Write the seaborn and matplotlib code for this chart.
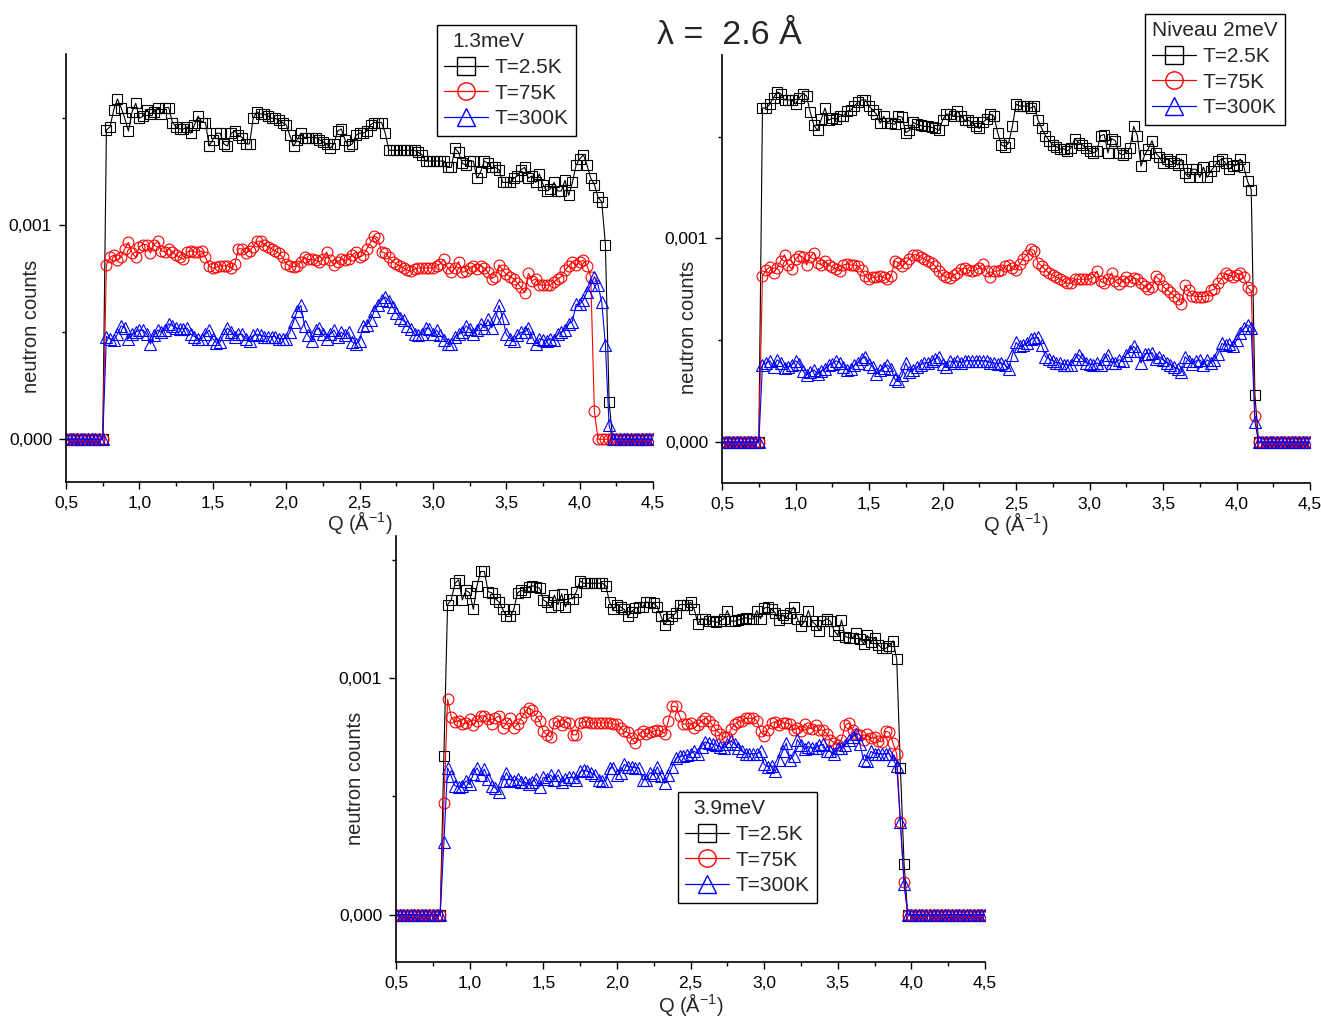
import numpy as np
import matplotlib
matplotlib.use('Agg')
import matplotlib.pyplot as plt
from matplotlib.lines import Line2D
from matplotlib.ticker import MultipleLocator, FuncFormatter
import seaborn as sns

# Q grid of the measurement (A^-1), step 0.025 from 0.5 to 4.5
q_grid = np.round(np.arange(0.5, 4.5001, 0.025), 3)
step = 0.025

# neutron counts in units of 1e-3, for the non-zero part of each curve
# panel 1 : 1.3 meV, non-zero from Q = 0.775
p1_start = 0.775
p1_black = [1.445, 1.46, 1.54, 1.59, 1.55, 1.50, 1.44, 1.53, 1.57, 1.50,
            1.51, 1.54, 1.52, 1.53, 1.55, 1.52, 1.55, 1.55, 1.48, 1.46,
            1.45, 1.45, 1.46, 1.43, 1.47, 1.51, 1.48, 1.48, 1.37, 1.40,
            1.43, 1.43, 1.38, 1.37, 1.43, 1.44, 1.42, 1.41, 1.38, 1.38,
            1.50, 1.53, 1.52, 1.52, 1.51, 1.50, 1.50, 1.49, 1.48, 1.47,
            1.42, 1.37, 1.40, 1.43, 1.41, 1.41, 1.41, 1.41, 1.40, 1.39,
            1.38, 1.36, 1.38, 1.44, 1.45, 1.40, 1.37, 1.38, 1.42, 1.43,
            1.43, 1.44, 1.47, 1.48, 1.48, 1.48, 1.43, 1.35, 1.35, 1.35,
            1.35, 1.35, 1.35, 1.35, 1.35, 1.34, 1.33, 1.30, 1.30, 1.30,
            1.30, 1.30, 1.30, 1.27, 1.27, 1.36, 1.34, 1.29, 1.28, 1.30,
            1.30, 1.22, 1.25, 1.30, 1.29, 1.27, 1.27, 1.26, 1.20, 1.20,
            1.20, 1.22, 1.23, 1.26, 1.27, 1.22, 1.23, 1.20, 1.24, 1.19,
            1.16, 1.17, 1.20, 1.16, 1.16, 1.21, 1.14, 1.20, 1.28, 1.31,
            1.33, 1.28, 1.22, 1.19, 1.13, 1.11, 0.91, 0.175]
p1_red = [0.816, 0.85, 0.86, 0.836, 0.85, 0.89, 0.92, 0.87, 0.85, 0.90,
          0.91, 0.91, 0.87, 0.91, 0.925, 0.88, 0.875, 0.89, 0.875, 0.86,
          0.85, 0.84, 0.875, 0.88, 0.875, 0.875, 0.88, 0.85, 0.81, 0.80,
          0.805, 0.81, 0.81, 0.81, 0.80, 0.82, 0.89, 0.89, 0.87, 0.88,
          0.90, 0.925, 0.925, 0.91, 0.90, 0.89, 0.88, 0.87, 0.85, 0.82,
          0.81, 0.805, 0.81, 0.83, 0.85, 0.84, 0.84, 0.836, 0.83, 0.84,
          0.875, 0.836, 0.815, 0.83, 0.84, 0.836, 0.84, 0.86, 0.875, 0.85,
          0.86, 0.89, 0.92, 0.95, 0.94, 0.875, 0.87, 0.85, 0.83, 0.82,
          0.81, 0.80, 0.79, 0.785, 0.795, 0.80, 0.80, 0.80, 0.80, 0.80,
          0.81, 0.82, 0.84, 0.80, 0.78, 0.80, 0.83, 0.78, 0.785, 0.80,
          0.81, 0.795, 0.81, 0.80, 0.78, 0.75, 0.76, 0.815, 0.79, 0.77,
          0.76, 0.75, 0.73, 0.71, 0.685, 0.775, 0.74, 0.75, 0.72, 0.72,
          0.72, 0.72, 0.735, 0.75, 0.76, 0.79, 0.81, 0.83, 0.815, 0.83,
          0.836, 0.81, 0.76, 0.13]
p1_blue = [0.48, 0.47, 0.465, 0.49, 0.53, 0.52, 0.47, 0.49, 0.50, 0.51,
           0.51, 0.49, 0.445, 0.485, 0.51, 0.50, 0.51, 0.54, 0.53, 0.52,
           0.515, 0.515, 0.52, 0.49, 0.48, 0.47, 0.47, 0.49, 0.51, 0.47,
           0.45, 0.455, 0.49, 0.52, 0.50, 0.48, 0.49, 0.49, 0.47, 0.46,
           0.485, 0.49, 0.485, 0.48, 0.48, 0.48, 0.48, 0.47, 0.47, 0.47,
           0.50, 0.55, 0.60, 0.625, 0.53, 0.485, 0.46, 0.51, 0.52, 0.49,
           0.47, 0.49, 0.51, 0.48, 0.50, 0.485, 0.50, 0.455, 0.445, 0.46,
           0.53, 0.535, 0.555, 0.60, 0.625, 0.65, 0.665, 0.645, 0.62, 0.59,
           0.565, 0.555, 0.53, 0.515, 0.49, 0.485, 0.49, 0.52, 0.515, 0.49,
           0.51, 0.485, 0.465, 0.445, 0.445, 0.48, 0.49, 0.50, 0.53, 0.515,
           0.49, 0.51, 0.54, 0.52, 0.56, 0.52, 0.565, 0.625, 0.565, 0.49,
           0.47, 0.46, 0.485, 0.50, 0.50, 0.52, 0.48, 0.445, 0.47, 0.465,
           0.46, 0.47, 0.465, 0.49, 0.50, 0.51, 0.54, 0.55, 0.63, 0.63,
           0.65, 0.69, 0.72, 0.76, 0.72, 0.64, 0.44, 0.066]

# panel 2 : Niveau 2 meV, non-zero from Q = 0.775
p2_start = 0.775
p2_black = [1.64, 1.64, 1.66, 1.69, 1.72, 1.71, 1.68, 1.68, 1.68, 1.66,
            1.69, 1.71, 1.70, 1.62, 1.555, 1.53, 1.585, 1.64, 1.58, 1.59,
            1.585, 1.60, 1.60, 1.625, 1.63, 1.65, 1.67, 1.68, 1.68, 1.65,
            1.63, 1.61, 1.565, 1.60, 1.565, 1.565, 1.56, 1.60, 1.595, 1.52,
            1.53, 1.57, 1.56, 1.555, 1.55, 1.55, 1.545, 1.54, 1.53, 1.58,
            1.61, 1.61, 1.60, 1.625, 1.60, 1.58, 1.58, 1.57, 1.55, 1.54,
            1.57, 1.585, 1.61, 1.60, 1.52, 1.46, 1.45, 1.47, 1.55, 1.66,
            1.65, 1.65, 1.65, 1.64, 1.65, 1.58, 1.54, 1.505, 1.48, 1.46,
            1.45, 1.44, 1.44, 1.43, 1.445, 1.49, 1.47, 1.46, 1.445, 1.43,
            1.42, 1.43, 1.505, 1.51, 1.42, 1.49, 1.48, 1.42, 1.41, 1.42,
            1.445, 1.55, 1.505, 1.355, 1.41, 1.44, 1.48, 1.42, 1.40, 1.37,
            1.39, 1.38, 1.37, 1.36, 1.39, 1.32, 1.30, 1.34, 1.34, 1.30,
            1.35, 1.30, 1.33, 1.355, 1.38, 1.39, 1.37, 1.34, 1.355, 1.36,
            1.39, 1.35, 1.28, 1.24, 0.233]
p2_red = [0.815, 0.845, 0.86, 0.83, 0.855, 0.89, 0.92, 0.87, 0.85, 0.90,
          0.915, 0.91, 0.87, 0.91, 0.93, 0.88, 0.87, 0.89, 0.87, 0.86,
          0.85, 0.84, 0.87, 0.875, 0.87, 0.87, 0.865, 0.845, 0.815, 0.80,
          0.81, 0.81, 0.815, 0.81, 0.80, 0.815, 0.89, 0.88, 0.865, 0.88,
          0.90, 0.92, 0.92, 0.91, 0.90, 0.89, 0.88, 0.865, 0.84, 0.82,
          0.81, 0.805, 0.82, 0.83, 0.85, 0.855, 0.845, 0.84, 0.845, 0.855,
          0.875, 0.84, 0.81, 0.84, 0.84, 0.845, 0.865, 0.87, 0.855, 0.845,
          0.875, 0.90, 0.92, 0.95, 0.94, 0.88, 0.865, 0.845, 0.83, 0.82,
          0.81, 0.80, 0.79, 0.78, 0.78, 0.80, 0.80, 0.80, 0.80, 0.80,
          0.81, 0.84, 0.79, 0.78, 0.80, 0.83, 0.79, 0.775, 0.79, 0.81,
          0.79, 0.805, 0.80, 0.78, 0.765, 0.75, 0.76, 0.815, 0.80, 0.765,
          0.75, 0.735, 0.72, 0.705, 0.68, 0.77, 0.745, 0.72, 0.715, 0.715,
          0.715, 0.72, 0.745, 0.75, 0.78, 0.805, 0.83, 0.82, 0.81, 0.82,
          0.83, 0.81, 0.76, 0.745, 0.13]
p2_blue = [0.38, 0.39, 0.40, 0.37, 0.405, 0.39, 0.365, 0.37, 0.38, 0.40,
           0.385, 0.35, 0.33, 0.345, 0.355, 0.335, 0.35, 0.36, 0.38, 0.385,
           0.40, 0.39, 0.37, 0.355, 0.36, 0.38, 0.39, 0.41, 0.42, 0.385,
           0.37, 0.335, 0.355, 0.365, 0.38, 0.36, 0.31, 0.30, 0.33, 0.39,
           0.345, 0.355, 0.37, 0.38, 0.39, 0.39, 0.40, 0.41, 0.42, 0.385,
           0.37, 0.40, 0.39, 0.40, 0.39, 0.40, 0.40, 0.40, 0.40, 0.40,
           0.40, 0.40, 0.39, 0.39, 0.385, 0.39, 0.38, 0.36, 0.43, 0.49,
           0.47, 0.475, 0.485, 0.505, 0.51, 0.515, 0.475, 0.42, 0.41, 0.40,
           0.39, 0.39, 0.38, 0.38, 0.38, 0.41, 0.43, 0.41, 0.39, 0.385,
           0.38, 0.39, 0.38, 0.41, 0.43, 0.39, 0.39, 0.405, 0.40, 0.43,
           0.45, 0.47, 0.45, 0.39, 0.435, 0.435, 0.44, 0.41, 0.42, 0.405,
           0.39, 0.38, 0.37, 0.36, 0.345, 0.42, 0.40, 0.385, 0.40, 0.405,
           0.38, 0.405, 0.39, 0.405, 0.435, 0.485, 0.475, 0.48, 0.47, 0.50,
           0.535, 0.56, 0.575, 0.56, 0.10]

# panel 3 : 3.9 meV, non-zero from Q = 0.825
p3_start = 0.825
p3_black = [0.67, 1.31, 1.33, 1.40, 1.415, 1.33, 1.37, 1.36,
            1.29, 1.39, 1.45, 1.45, 1.365, 1.36, 1.335, 1.32, 1.29, 1.26,
            1.26, 1.29, 1.36, 1.37, 1.365, 1.385, 1.39, 1.385, 1.38, 1.33,
            1.32, 1.30, 1.35, 1.31, 1.355, 1.30, 1.335, 1.335, 1.365, 1.41,
            1.40, 1.40, 1.40, 1.40, 1.40, 1.40, 1.39, 1.32, 1.29, 1.31,
            1.30, 1.29, 1.26, 1.28, 1.295, 1.30, 1.30, 1.32, 1.32, 1.315,
            1.30, 1.26, 1.225, 1.25, 1.26, 1.275, 1.31, 1.31, 1.31, 1.32,
            1.29, 1.23, 1.25, 1.25, 1.24, 1.24, 1.235, 1.24, 1.25, 1.285,
            1.24, 1.24, 1.245, 1.25, 1.255, 1.25, 1.25, 1.285, 1.25, 1.295,
            1.30, 1.29, 1.275, 1.245, 1.265, 1.255, 1.275, 1.30, 1.25, 1.22,
            1.24, 1.285, 1.24, 1.225, 1.20, 1.24, 1.25, 1.24, 1.20, 1.18,
            1.245, 1.175, 1.17, 1.17, 1.19, 1.165, 1.145, 1.18, 1.15, 1.17,
            1.14, 1.125, 1.125, 1.135, 1.157, 1.08, 0.62, 0.215]
p3_red = [0.47, 0.91, 0.835, 0.815, 0.82, 0.805, 0.81, 0.825,
          0.80, 0.82, 0.84, 0.84, 0.825, 0.805, 0.83, 0.84, 0.79, 0.81,
          0.83, 0.79, 0.805, 0.83, 0.855, 0.875, 0.865, 0.84, 0.82, 0.775,
          0.76, 0.75, 0.81, 0.82, 0.80, 0.815, 0.81, 0.76, 0.76, 0.81,
          0.815, 0.815, 0.81, 0.81, 0.81, 0.81, 0.81, 0.81, 0.805, 0.805,
          0.79, 0.775, 0.77, 0.745, 0.725, 0.765, 0.775, 0.765, 0.77, 0.775,
          0.78, 0.775, 0.765, 0.82, 0.88, 0.88, 0.84, 0.805, 0.805, 0.81,
          0.79, 0.80, 0.82, 0.83, 0.82, 0.80, 0.78, 0.765, 0.75, 0.75,
          0.785, 0.805, 0.815, 0.82, 0.83, 0.83, 0.83, 0.82, 0.775, 0.755,
          0.78, 0.81, 0.815, 0.80, 0.81, 0.81, 0.805, 0.78, 0.79, 0.775,
          0.805, 0.79, 0.785, 0.80, 0.78, 0.78, 0.765, 0.74, 0.725, 0.715,
          0.74, 0.80, 0.81, 0.78, 0.765, 0.76, 0.74, 0.765, 0.745, 0.75,
          0.735, 0.73, 0.775, 0.77, 0.725, 0.68, 0.39, 0.14]
p3_blue = [0.305, 0.62, 0.585, 0.545, 0.54, 0.545, 0.565, 0.55,
           0.595, 0.62, 0.59, 0.615, 0.575, 0.545, 0.535, 0.52, 0.565, 0.60,
           0.57, 0.565, 0.575, 0.56, 0.56, 0.55, 0.56, 0.575, 0.54, 0.58,
           0.575, 0.59, 0.57, 0.59, 0.56, 0.575, 0.58, 0.58, 0.57, 0.605,
           0.61, 0.605, 0.60, 0.59, 0.57, 0.565, 0.565, 0.62, 0.62, 0.59,
           0.60, 0.635, 0.625, 0.625, 0.62, 0.62, 0.57, 0.57, 0.60, 0.59,
           0.625, 0.585, 0.555, 0.59, 0.625, 0.66, 0.67, 0.67, 0.675, 0.68,
           0.69, 0.68, 0.71, 0.73, 0.725, 0.72, 0.715, 0.71, 0.705, 0.72,
           0.735, 0.72, 0.705, 0.69, 0.68, 0.68, 0.68, 0.68, 0.69, 0.635,
           0.625, 0.63, 0.605, 0.655, 0.69, 0.725, 0.655, 0.67, 0.74, 0.715,
           0.70, 0.71, 0.705, 0.705, 0.715, 0.72, 0.69, 0.69, 0.68, 0.705,
           0.705, 0.715, 0.74, 0.75, 0.765, 0.72, 0.655, 0.65, 0.69, 0.68,
           0.68, 0.68, 0.68, 0.68, 0.655, 0.63, 0.39, 0.13]

series_labels = ['T=2.5K', 'T=75K', 'T=300K']
series_colors = ['black', 'red', 'blue']
series_markers = ['s', 'o', '^']

sns.set_style('ticks')
plt.rcParams['font.family'] = ['Liberation Sans', 'DejaVu Sans']
plt.rcParams['mathtext.fontset'] = 'custom'
plt.rcParams['mathtext.rm'] = 'Liberation Sans'
plt.rcParams['mathtext.it'] = 'Liberation Sans:italic'


def full_curve(start, vals):
    # zero counts outside the detector window, as in the measurement
    y = np.zeros(len(q_grid))
    i0 = int(round((start - q_grid[0]) / step))
    y[i0:i0 + len(vals)] = np.array(vals) * 1e-3
    return y


def draw_panel(ax, start, curves, title, ytop, ylab_xy, xlab_y, leg_anchor, title_shift):
    sizes = [7.2, 7.8, 8.4]
    for vals, color, marker, ms in zip(curves, series_colors, series_markers, sizes):
        sns.lineplot(x=q_grid, y=full_curve(start, vals), ax=ax, color=color,
                     marker=marker, markersize=ms, markerfacecolor='none',
                     markeredgecolor=color, markeredgewidth=0.8, linewidth=0.8,
                     estimator=None, sort=False)
    ax.set_xlim(0.5, 4.5)
    ax.set_ylim(-0.0002, ytop)
    ax.xaxis.set_major_locator(MultipleLocator(0.5))
    ax.xaxis.set_minor_locator(MultipleLocator(0.25))
    ax.yaxis.set_major_locator(MultipleLocator(0.001))
    ax.yaxis.set_minor_locator(MultipleLocator(0.0005))
    ax.xaxis.set_major_formatter(FuncFormatter(lambda v, p: f'{v:.1f}'.replace('.', ',')))
    ax.yaxis.set_major_formatter(FuncFormatter(lambda v, p: f'{v:.3f}'.replace('.', ',')))
    ax.tick_params(which='major', direction='out', length=5, width=1, labelsize=12.5, pad=5, colors='black')
    ax.tick_params(which='minor', direction='out', length=3, width=1, colors='black')
    sns.despine(ax=ax)
    for s in ('left', 'bottom'):
        ax.spines[s].set_linewidth(1.2)
        ax.spines[s].set_color('black')
    ax.set_ylabel('neutron counts', fontsize=14.5)
    ax.yaxis.set_label_coords(*ylab_xy)
    ax.set_xlabel('Q (Å$^{-1}$)', fontsize=14.5)
    ax.xaxis.set_label_coords(0.5, xlab_y)

    handles = [Line2D([], [], color=c, marker=m, markersize=12.5, markerfacecolor='none',
                      markeredgecolor=c, markeredgewidth=1.0, linewidth=0.9)
               for c, m in zip(series_colors, series_markers)]
    leg = ax.legend(handles, series_labels, title=title, loc='upper left',
                    bbox_to_anchor=leg_anchor, bbox_transform=ax.figure.transFigure,
                    frameon=True, fancybox=False, edgecolor='black', framealpha=1,
                    fontsize=15, title_fontsize=15, alignment='left',
                    handlelength=2.1, handletextpad=0.3, borderpad=0.35,
                    labelspacing=0.32, borderaxespad=0)
    leg.get_frame().set_linewidth(1.0)
    if title_shift:
        leg.get_title().set_position((title_shift, 0))


fig = plt.figure(figsize=(13.21, 10.18), dpi=100)
ax1 = fig.add_axes([0.0500, 0.5265, 0.4444, 0.4204])
ax2 = fig.add_axes([0.5466, 0.5255, 0.4451, 0.4204])
ax3 = fig.add_axes([0.2998, 0.0550, 0.4459, 0.4185])

draw_panel(ax1, p1_start, [p1_black, p1_red, p1_blue], '1.3meV', 0.0018,
           (-0.043, 0.364), -0.062, (0.3308, 0.9754), 8)
draw_panel(ax2, p2_start, [p2_black, p2_red, p2_blue], 'Niveau 2meV', 0.0019,
           (-0.041, 0.364), -0.062, (0.8668, 0.9862), 0)
draw_panel(ax3, p3_start, [p3_black, p3_red, p3_blue], '3.9meV', 0.0016,
           (-0.053, 0.432), -0.068, (0.5132, 0.2220), 8)

fig.text(0.552, 0.9655, 'λ =  2.6 Å', ha='center', va='center', fontsize=24.5)

fig.savefig('out.png', dpi=100)
